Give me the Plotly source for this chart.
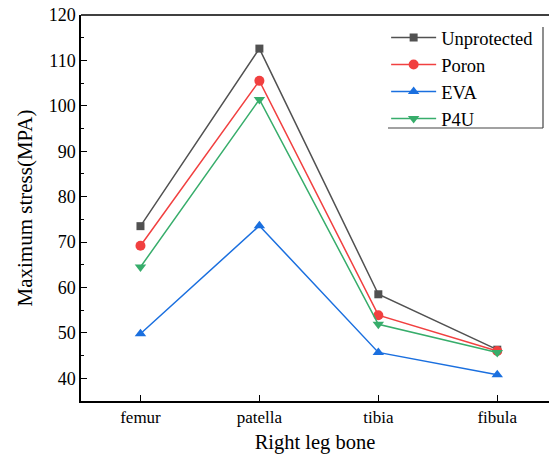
import plotly.graph_objects as go

bones = ["femur", "patella", "tibia", "fibula"]
unprotected = [73.5, 112.6, 58.5, 46.3]
poron = [69.2, 105.5, 53.9, 46.0]
eva = [49.8, 73.6, 45.7, 40.8]
p4u = [64.5, 101.4, 51.9, 45.7]

series = [
    ("Unprotected", unprotected, "#515151", "square", 8),
    ("Poron", poron, "#F14040", "circle", 10),
    ("EVA", eva, "#1A6FDF", "triangle-up", 10),
    ("P4U", p4u, "#37AD6B", "triangle-down", 10),
]

font = "Liberation Serif, serif"
fig = go.Figure()
for name, vals, col, sym, sz in series:
    fig.add_trace(go.Scatter(
        x=list(range(len(bones))), y=vals, name=name, mode="lines+markers",
        line=dict(color=col, width=1.5),
        marker=dict(symbol=sym, size=sz, color=col),
    ))

W, H = 549, 459
ml, mr, mt, mb = 81, 0, 15, 58
fig.update_layout(
    template="none",
    width=W, height=H,
    margin=dict(l=ml, r=mr, t=mt, b=mb),
    plot_bgcolor="white", paper_bgcolor="white",
    font=dict(family=font, size=17, color="black"),
    showlegend=True,
    legend=dict(
        x=0.652, y=0.99, xanchor="left", yanchor="top",
        bgcolor="rgba(0,0,0,0)", borderwidth=0,
        font=dict(family=font, size=18.5, color="black"),
        itemwidth=45, tracegroupgap=0,
    ),
    xaxis=dict(
        range=[-0.5, 3.435], tickmode="array",
        tickvals=list(range(len(bones))), ticktext=bones,
        showline=True, linecolor="black", linewidth=1.5, mirror=False,
        ticks="inside", ticklen=6, tickwidth=1.2, tickcolor="black",
        showgrid=False, zeroline=False,
        tickfont=dict(family=font, size=17),
        title=dict(text="Right leg bone", font=dict(family=font, size=20.5), standoff=8),
    ),
    yaxis=dict(
        range=[35, 120], dtick=10, tick0=40,
        showline=True, linecolor="black", linewidth=1.5, mirror=False,
        ticks="inside", ticklen=6, tickwidth=1.2, tickcolor="black",
        minor=dict(ticks="inside", ticklen=3.5, dtick=5, tickcolor="black", tickwidth=1.2),
        showgrid=False, zeroline=False,
        tickfont=dict(family=font, size=18),
        title=dict(text="Maximum stress(MPA)", font=dict(family=font, size=21), standoff=10),
    ),
)

pw = W - ml - mr
ph = H - mt - mb
def px(xp):
    return (xp - ml) / pw
def py(yp):
    return 1 - (yp - mt) / ph

# hide any right frame edge, draw top frame line
fig.add_shape(type="line", xref="paper", yref="paper",
              x0=1, x1=1, y0=0.002, y1=0.998, line=dict(color="white", width=4))
fig.add_shape(type="line", xref="paper", yref="paper",
              x0=0, x1=1, y0=1, y1=1, line=dict(color="black", width=1.5))
# legend frame (right and bottom edges, as in the reference)
fig.add_shape(type="line", xref="paper", yref="paper",
              x0=px(543), x1=px(543), y0=py(27), y1=py(128),
              line=dict(color="#444", width=1.2))
fig.add_shape(type="line", xref="paper", yref="paper",
              x0=px(388), x1=px(543), y0=py(128), y1=py(128),
              line=dict(color="#444", width=1.2))

fig.write_html("out.html")
